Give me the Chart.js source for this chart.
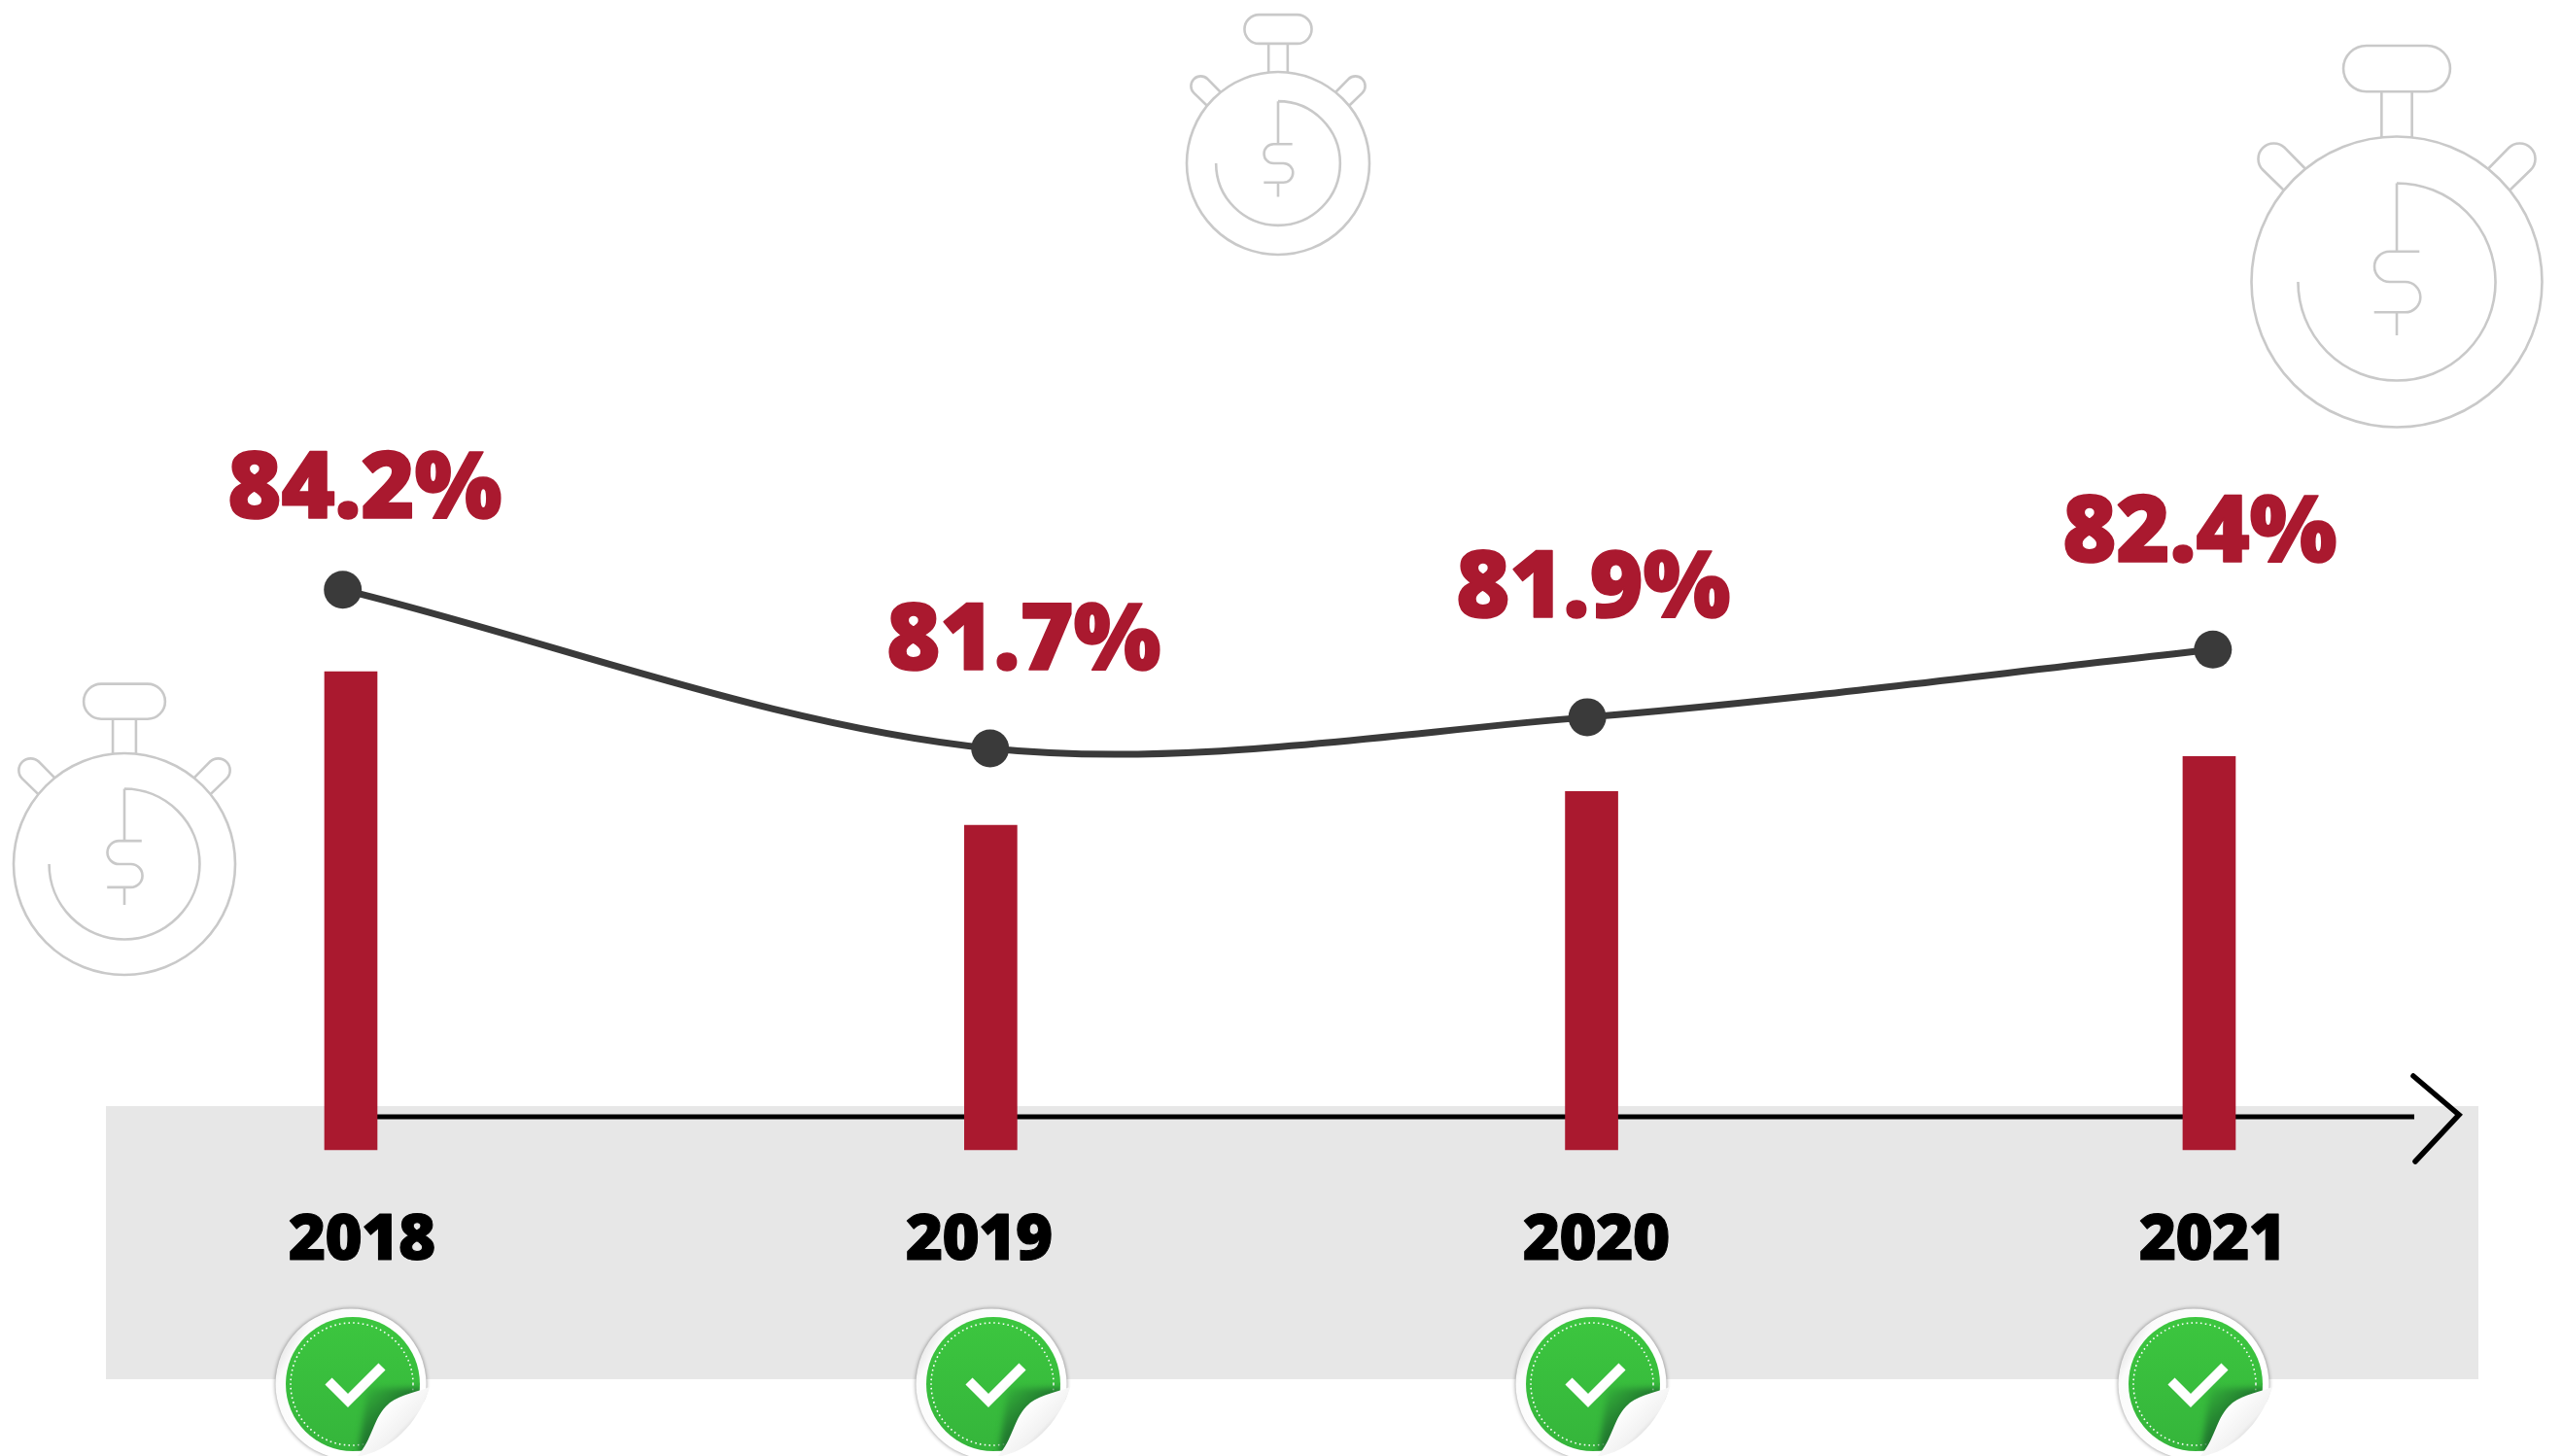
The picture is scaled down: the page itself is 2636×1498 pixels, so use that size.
<!DOCTYPE html>
<html>
<head>
<meta charset="utf-8">
<title>Chart</title>
<script src="https://cdn.jsdelivr.net/npm/chart.js@4/dist/chart.umd.min.js"></script>
<style>
    html, body { margin: 0; padding: 0; background: #fff; }
    canvas { display: block; }
</style>
</head>
<body>
<canvas id="chart" width="2636" height="1498"></canvas>
<script>
// printed labels
const yearLabels = ['2018', '2019', '2020', '2021'];
const valueLabels = ['84.2%', '81.7%', '81.9%', '82.4%'];

// values (the drawing is not quite to scale)
const barYears = [2018, 2019.033, 2020.003, 2021];
const barValues = [84.2, 81.7, 82.25, 82.82];
const lineYears = [2017.987, 2019.032, 2019.996, 2021.006];
const lineValues = [84.2, 81.71, 82.2, 83.26];

const RED = '#aa192f';
const DARK = '#3a3a3a';
const WATCH_GREY = '#c9c9c9';

// label placement in pixels, these sit freely in the original
const valueLabelX = [375, 1053, 1639, 2263];
const valueLabelY = [533, 689, 635, 578];
const yearX = [372, 1007, 1642, 2276];
const yearY = 1296;
const watches = [[1315, 168, 94], [2466, 290, 149.5], [128, 889, 114]];
const stickerX = [363, 1022, 1639, 2259];
const stickerY = 1424;

// stopwatch, sketched in a box where the body radius is 449
function drawWatch(ctx, cx, cy, r) {
    const s = r / 449;
    ctx.save();
    ctx.translate(cx, cy);
    ctx.scale(s, s);
    ctx.strokeStyle = WATCH_GREY;
    ctx.lineWidth = 2.6 / s;
    ctx.beginPath();
    ctx.arc(0, 0, 449, 0, Math.PI * 2);
    ctx.stroke();
    // crown
    ctx.beginPath();
    ctx.roundRect(-165, -730, 330, 142, 71);
    ctx.moveTo(-47, -588); ctx.lineTo(-47, -446);
    ctx.moveTo(47, -588); ctx.lineTo(47, -446);
    // side lugs
    ctx.moveTo(-283, -350);
    ctx.lineTo(-346, -414);
    ctx.arc(-380, -380, 48, -Math.PI / 4, Math.PI * 0.75, true);
    ctx.lineTo(-349, -283);
    ctx.moveTo(283, -350);
    ctx.lineTo(346, -414);
    ctx.arc(380, -380, 48, -Math.PI * 0.75, Math.PI / 4);
    ctx.lineTo(349, -283);
    // inner dial
    ctx.moveTo(0, -305);
    ctx.arc(0, 0, 305, -Math.PI / 2, Math.PI);
    ctx.moveTo(0, -305);
    ctx.lineTo(0, -94);
    // dollar
    ctx.moveTo(70, -94);
    ctx.lineTo(-22, -94);
    ctx.arc(-22, -47, 47, -Math.PI / 2, Math.PI / 2, true);
    ctx.lineTo(26, 0);
    ctx.arc(26, 47, 47, -Math.PI / 2, Math.PI / 2);
    ctx.lineTo(-70, 94);
    ctx.moveTo(0, 94);
    ctx.lineTo(0, 165);
    ctx.stroke();
    ctx.restore();
}

// green check sticker with the curled corner
function drawSticker(ctx, cx, cy) {
    ctx.save();
    ctx.translate(cx, cy);

    const ring = ctx.createLinearGradient(-80, -40, 10, 10);
    ring.addColorStop(0, '#dcdcdc');
    ring.addColorStop(0.2, '#fbfbfb');
    ring.addColorStop(1, '#ffffff');
    ctx.save();
    ctx.shadowColor = 'rgba(0,0,0,0.45)';
    ctx.shadowBlur = 4;
    ctx.fillStyle = ring;
    ctx.beginPath();
    ctx.arc(-2, 0, 77.5, 0, Math.PI * 2);
    ctx.fill();
    ctx.restore();

    const green = ctx.createLinearGradient(0, -69, 0, 69);
    green.addColorStop(0, '#3cc63f');
    green.addColorStop(1, '#35b53b');
    ctx.fillStyle = green;
    ctx.beginPath();
    ctx.arc(0, 0, 69, 0, Math.PI * 2);
    ctx.fill();

    ctx.strokeStyle = '#ffffff';
    ctx.lineWidth = 1.6;
    ctx.setLineDash([1.6, 3.2]);
    ctx.beginPath();
    ctx.arc(-1, 0, 63, 0, Math.PI * 2);
    ctx.stroke();
    ctx.setLineDash([]);

    // check mark
    ctx.strokeStyle = '#ffffff';
    ctx.lineWidth = 10;
    ctx.lineCap = 'butt';
    ctx.lineJoin = 'miter';
    ctx.beginPath();
    ctx.moveTo(-25, -3);
    ctx.lineTo(-5, 17);
    ctx.lineTo(30, -18);
    ctx.stroke();

    // shadow under the curl
    ctx.save();
    ctx.beginPath();
    ctx.arc(0, 0, 69, 0, Math.PI * 2);
    ctx.clip();
    const sh = ctx.createLinearGradient(8, 4, 36, 32);
    sh.addColorStop(0, 'rgba(30,110,45,0)');
    sh.addColorStop(1, 'rgba(30,110,45,0.85)');
    ctx.fillStyle = sh;
    ctx.filter = 'blur(3px)';
    ctx.beginPath();
    ctx.moveTo(80, 4);
    ctx.lineTo(15, 4);
    ctx.lineTo(5, 75);
    ctx.lineTo(80, 75);
    ctx.closePath();
    ctx.fill();
    ctx.filter = 'none';
    ctx.restore();

    // paper cut away behind the curl
    ctx.fillStyle = '#ffffff';
    ctx.beginPath();
    ctx.moveTo(79, 3);
    ctx.bezierCurveTo(70, 34, 44, 68, 4, 75);
    ctx.lineTo(4, 90);
    ctx.lineTo(90, 90);
    ctx.lineTo(90, 3);
    ctx.closePath();
    ctx.fill();

    // the curl
    const curl = ctx.createLinearGradient(24, 30, 58, 64);
    curl.addColorStop(0, '#ffffff');
    curl.addColorStop(0.6, '#f2f2f2');
    curl.addColorStop(1, '#b8b8b8');
    ctx.fillStyle = curl;
    ctx.beginPath();
    ctx.moveTo(79, 3);
    ctx.bezierCurveTo(60, 10, 44, 12, 34, 23);
    ctx.bezierCurveTo(20, 38, 20, 58, 4, 75);
    ctx.bezierCurveTo(44, 68, 70, 34, 79, 3);
    ctx.closePath();
    ctx.fill();
    ctx.restore();
}

const backdrop = {
    id: 'backdrop',
    beforeDatasetsDraw(chart) {
        const ctx = chart.ctx;
        ctx.save();
        watches.forEach(w => drawWatch(ctx, w[0], w[1], w[2]));

        // grey band
        ctx.fillStyle = '#e7e7e7';
        ctx.fillRect(109, 1138, 2441, 281);

        // time arrow
        ctx.strokeStyle = '#000000';
        ctx.lineWidth = 5;
        ctx.beginPath();
        ctx.moveTo(370, 1149);
        ctx.lineTo(2484, 1149);
        ctx.stroke();
        ctx.lineCap = 'round';
        ctx.lineWidth = 5.5;
        ctx.beginPath();
        ctx.moveTo(2483, 1107);
        ctx.lineTo(2530, 1147);
        ctx.lineTo(2485, 1195);
        ctx.stroke();
        ctx.restore();
    },
    afterDatasetsDraw(chart) {
        const ctx = chart.ctx;
        ctx.save();
        ctx.textAlign = 'center';
        ctx.textBaseline = 'alphabetic';
        ctx.lineJoin = 'round';

        ctx.fillStyle = RED;
        ctx.strokeStyle = RED;
        ctx.lineWidth = 1.5;
        ctx.letterSpacing = '-0.5px';
        ctx.font = '800 95px "Open Sans"';
        valueLabels.forEach((label, i) => {
            ctx.fillText(label, valueLabelX[i], valueLabelY[i]);
            ctx.strokeText(label, valueLabelX[i], valueLabelY[i]);
        });

        ctx.fillStyle = '#000000';
        ctx.strokeStyle = '#000000';
        ctx.lineWidth = 1;
        ctx.letterSpacing = '-1px';
        ctx.font = '800 66px "Open Sans"';
        yearLabels.forEach((label, i) => {
            ctx.fillText(label, yearX[i], yearY);
            ctx.strokeText(label, yearX[i], yearY);
        });
        ctx.letterSpacing = '0px';
        stickerX.forEach(sx => drawSticker(ctx, sx, stickerY));
        ctx.restore();
    }
};

new Chart(document.getElementById('chart'), {
    type: 'bar',
    data: {
        datasets: [{
            type: 'line',
            order: 0,
            xAxisID: 'x',
            yAxisID: 'yLine',
            data: lineYears.map((year, i) => ({ x: year, y: lineValues[i] })),
            borderColor: DARK,
            backgroundColor: DARK,
            borderWidth: 7,
            tension: 0.33,
            pointRadius: 19.5,
            pointBackgroundColor: DARK,
            pointBorderWidth: 0,
            fill: false
        }, {
            type: 'bar',
            order: 1,
            xAxisID: 'x',
            yAxisID: 'yBar',
            data: barYears.map((year, i) => ({ x: year, y: barValues[i] })),
            base: 76.415,
            backgroundColor: RED,
            barThickness: 54,
            borderWidth: 0
        }]
    },
    options: {
        responsive: false,
        animation: false,
        devicePixelRatio: 1,
        layout: { padding: 0, autoPadding: false },
        plugins: { legend: { display: false }, tooltip: { enabled: false } },
        scales: {
            x: { type: 'linear', display: false, offset: false, min: 2017.4336, max: 2021.5696 },
            yLine: { type: 'linear', display: false, min: 70.613, max: 93.448 },
            yBar: { type: 'linear', display: false, min: 71.431, max: 95.134 }
        }
    },
    plugins: [backdrop]
});
</script>
</body>
</html>
